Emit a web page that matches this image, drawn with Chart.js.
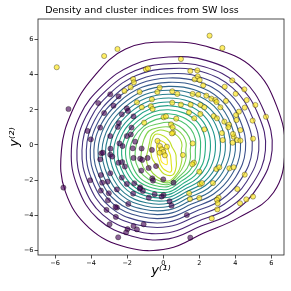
<!DOCTYPE html>
<html>
<head>
<meta charset="utf-8">
<script src="https://cdn.jsdelivr.net/npm/chart.js@4.4.1/dist/chart.umd.min.js"></script>
<style>
  html, body { margin: 0; padding: 0; background: #fff; }
  #wrap { width: 291px; height: 291px; }
</style>
</head>
<body>
<div id="wrap"><canvas id="myChart" width="291" height="291"></canvas></div>
<script>
"use strict";

const ctx = document.getElementById('myChart');

const xTicks = [-6, -4, -2, 0, 2, 4, 6];
const yTicks = [-6, -4, -2, 0, 2, 4, 6];

// cluster 0 (purple) points
const clusterZero = [
  [-5.26,2.05],[-3.61,2.39],[-2.94,2.89],[-2.48,2.77],[-2.76,2.24],[-3.28,1.82],[-2.30,1.75],[-2.02,2.09],
  [-1.96,1.94],[-2.46,1.25],[-3.50,0.99],[-4.20,0.80],[-4.02,0.32],[-2.94,0.51],[-1.65,1.63],[-1.76,0.99],
  [-2.02,0.51],[-1.56,0.19],[-2.43,0.09],[-2.26,-0.06],[-2.93,-0.21],[-3.50,-0.82],[-3.44,-0.47],[-2.94,-0.55],
  [-2.83,-0.66],[-2.48,-1.01],[-1.69,-0.19],[-1.65,-0.74],[-1.28,-0.78],[-0.87,-0.74],[-1.22,-1.46],[-0.81,-1.31],
  [-2.13,-1.23],[-2.94,-1.61],[-3.46,-1.71],[-3.09,-2.09],[-3.39,-2.15],[-4.06,-2.01],[-5.54,-2.43],[-3.46,-2.60],
  [-3.07,-3.15],[-2.57,-2.53],[-2.30,-1.86],[-2.02,-2.22],[-1.61,-2.18],[-1.67,-2.77],[-1.28,-2.41],[-1.13,-2.62],
  [-0.61,-1.90],[-0.57,-2.03],[-0.48,-2.81],[0.02,-2.85],[-0.09,-2.94],[0.00,-1.96],[0.57,-2.15],[0.35,-3.21],
  [0.46,-3.46],[-3.15,-3.70],[-2.57,-3.57],[-1.94,-3.36],[-2.63,-4.10],[-2.98,-4.52],[-1.98,-4.79],[-1.46,-4.81],
  [-1.09,-4.52],[-2.06,-4.98],[-2.50,-5.26],[1.31,-3.99],[1.50,-5.28],[-0.63,-0.28],[-2.28,-0.97],[-1.17,-0.85],
  [-1.30,-2.49],[-0.80,-3.00],[-1.65,-4.62],[-2.65,-3.53],[-3.35,-0.44],[-3.02,-2.75],[-2.52,1.03],[-1.80,0.60],
  [-1.20,-0.20],[-0.40,-1.20]
];

// cluster 1 (yellow) points
const clusterOne = [
  [-5.91,4.43],[-3.28,5.07],[-2.54,5.47],[2.57,6.23],[3.28,5.53],[0.98,4.90],[-0.96,4.31],[-0.85,4.37],
  [1.50,4.22],[1.89,4.25],[1.74,3.74],[1.91,3.91],[2.02,3.70],[2.22,3.40],[3.83,3.68],[3.41,3.32],
  [4.50,3.17],[-1.67,3.76],[-1.63,3.57],[-1.81,3.29],[-2.15,3.08],[-1.31,3.02],[-0.33,3.02],[-0.20,3.27],
  [0.50,3.06],[0.78,2.91],[1.63,2.91],[1.94,2.87],[2.39,2.81],[2.67,2.64],[2.89,2.56],[2.96,2.45],
  [3.48,2.51],[4.02,2.92],[4.63,2.56],[4.52,2.13],[5.11,2.28],[4.20,1.90],[3.17,2.15],[2.06,2.28],
  [1.52,2.30],[0.98,2.30],[0.50,2.41],[-0.63,2.60],[-1.46,2.43],[-1.19,2.15],[-0.69,2.22],[-0.59,2.05],
  [0.02,1.58],[0.15,1.63],[0.72,1.50],[1.43,1.86],[1.72,1.52],[2.06,1.77],[2.28,2.15],[2.80,1.65],
  [2.98,1.52],[3.39,1.33],[3.65,1.16],[3.61,1.01],[4.06,1.42],[4.28,0.85],[3.91,0.47],[4.09,0.28],
  [4.28,0.25],[4.96,1.39],[4.98,0.36],[5.70,1.61],[4.04,1.71],[2.28,0.89],[3.26,0.68],[3.87,0.63],
  [3.30,0.28],[3.85,0.13],[1.63,0.09],[1.09,-0.57],[1.70,-1.01],[1.61,-1.10],[2.00,-1.52],[2.04,-2.24],
  [2.15,-2.17],[2.76,-2.17],[2.94,-1.37],[3.11,-1.27],[3.67,-1.33],[3.91,-1.27],[4.52,-1.69],[4.11,-2.51],
  [4.61,-3.10],[4.98,-2.94],[4.26,-3.32],[3.07,-3.00],[2.98,-3.13],[3.02,-3.32],[3.00,-3.67],[1.44,-2.75],
  [1.48,-3.08],[2.00,-3.02],[2.69,-4.18],[0.43,1.18],[0.52,1.01],[-1.06,1.27],[0.54,0.70],[0.48,0.66],
  [-0.32,0.23],[-0.18,-0.06],[-0.09,-0.25],[0.00,-0.40],[0.09,-0.59],[-0.20,-0.44],[0.20,-0.10]
];

// density contours, outer to inner: radii at 16 directions round a centre
const contourAngles = [0, 22.5, 45, 67.5, 90, 112.5, 135, 157.5, 180, 202.5, 225, 247.5, 270, 292.5, 315, 337.5];
const contourCentres = [
  [0.3,-0.3],[0.3,-0.3],[0.3,-0.3],[0.3,-0.3],[0.3,-0.3],[0.3,-0.3],[0.3,-0.3],[0.3,-0.3],
  [0.3,-0.3],[0.3,-0.3],[0.3,-0.3],[0.3,-0.3],[0.3,-0.3],[0.3,-0.3],[0.3,-0.3],[0.3,-0.3],
  [0.3,-0.3],[0.3,-0.3],[0.3,-0.3],[0.05,-0.55],[0.05,-0.6],[0.0,-0.6]
];
const contourRadii = [
  [6.45,6.50,6.62,6.30,6.17,6.24,5.90,5.80,5.95,6.20,6.25,6.00,5.60,5.10,5.45,6.30],
  [5.74,5.74,5.75,5.53,5.31,5.25,5.19,5.30,5.40,5.47,5.54,5.30,5.05,4.68,5.02,5.38],
  [5.37,5.37,5.36,5.15,4.93,4.90,4.86,4.98,5.09,5.14,5.19,4.95,4.70,4.36,4.68,5.03],
  [5.00,5.01,5.02,4.84,4.65,4.62,4.59,4.70,4.81,4.83,4.85,4.60,4.35,4.05,4.35,4.68],
  [4.63,4.65,4.67,4.52,4.36,4.35,4.33,4.45,4.57,4.58,4.59,4.34,4.09,3.79,4.05,4.34],
  [4.26,4.31,4.36,4.24,4.12,4.12,4.11,4.23,4.35,4.35,4.34,4.09,3.84,3.54,3.77,4.02],
  [3.98,4.03,4.08,3.98,3.87,3.88,3.89,4.02,4.15,4.13,4.11,3.86,3.61,3.32,3.53,3.76],
  [3.70,3.76,3.82,3.73,3.64,3.66,3.67,3.80,3.92,3.90,3.88,3.64,3.40,3.12,3.30,3.50],
  [3.42,3.49,3.56,3.49,3.42,3.44,3.45,3.58,3.70,3.68,3.66,3.44,3.21,2.92,3.08,3.25],
  [3.14,3.22,3.29,3.24,3.19,3.22,3.24,3.37,3.50,3.48,3.46,3.24,3.02,2.73,2.86,3.00],
  [2.87,2.96,3.04,3.01,2.98,3.01,3.03,3.15,3.27,3.26,3.24,3.05,2.85,2.56,2.66,2.77],
  [2.59,2.69,2.78,2.77,2.75,2.78,2.81,2.93,3.05,3.05,3.04,2.86,2.68,2.39,2.45,2.52],
  [2.31,2.42,2.52,2.53,2.54,2.57,2.60,2.72,2.83,2.84,2.84,2.69,2.53,2.22,2.25,2.28],
  [2.03,2.15,2.26,2.29,2.31,2.35,2.39,2.50,2.61,2.63,2.64,2.51,2.38,2.06,2.05,2.04],
  [1.76,1.88,2.00,2.04,2.08,2.13,2.17,2.28,2.39,2.42,2.44,2.33,2.22,1.89,1.85,1.81],
  [1.48,1.61,1.73,1.79,1.84,1.89,1.94,2.05,2.16,2.20,2.24,2.16,2.07,1.73,1.65,1.57],
  [1.20,1.32,1.40,1.50,1.59,1.62,1.80,1.80,1.85,1.95,2.00,1.98,1.95,1.60,1.45,1.30],
  [0.95,1.05,1.15,1.25,1.33,1.40,1.55,1.50,1.50,1.65,1.75,1.80,1.85,1.45,1.20,1.05],
  [0.70,0.80,0.90,0.98,1.04,1.25,1.30,1.15,1.15,1.35,1.50,1.65,1.75,1.35,1.00,0.80],
  [0.65,0.60,0.62,0.80,1.05,1.25,1.00,0.80,0.72,0.70,0.70,0.80,1.10,1.25,0.95,0.72],
  [0.35,0.33,0.35,0.50,0.75,0.90,0.60,0.42,0.38,0.36,0.40,0.55,0.80,1.00,0.55,0.40],
  [0.17,0.17,0.20,0.32,0.45,0.52,0.30,0.20,0.17,0.17,0.20,0.32,0.45,0.55,0.30,0.20]
];

// viridis colour stops
const viridisStops = ['#440154','#471365','#482475','#463480','#414487','#3b528b','#355f8d','#2f6c8e',
  '#2a788e','#25848e','#21918c','#1e9c89','#22a884','#2fb47c','#44bf70','#5ec962','#7ad151','#9bd93c',
  '#bddf26','#dfe318','#fde725'];

function viridis(t) {
  const p = t * (viridisStops.length - 1);
  const i = Math.min(Math.floor(p), viridisStops.length - 2);
  const f = p - i;
  const a = parseInt(viridisStops[i].slice(1), 16), b = parseInt(viridisStops[i + 1].slice(1), 16);
  const ch = s => Math.round(((a >> s) & 255) * (1 - f) + ((b >> s) & 255) * f);
  return 'rgb(' + ch(16) + ',' + ch(8) + ',' + ch(0) + ')';
}

const contourSets = contourRadii.map((radii, k) => ({
  type: 'line',
  label: 'level ' + (k + 1),
  closed: true,
  data: radii.map((r, j) => ({
    x: contourCentres[k][0] + r * Math.cos(contourAngles[j] * Math.PI / 180),
    y: contourCentres[k][1] + r * Math.sin(contourAngles[j] * Math.PI / 180)
  })),
  borderColor: viridis(k / (contourRadii.length - 1)),
  borderWidth: 1.1,
  pointRadius: 0,
  tension: 0.4,
  fill: false,
  order: 2
}));

// make the contour lines smooth closed loops
const closeLoops = {
  id: 'closeLoops',
  afterDatasetUpdate(chart, args) {
    const ds = chart.data.datasets[args.index];
    if (ds.closed && args.meta.dataset) {
      args.meta.dataset._loop = true;
      args.meta.dataset._fullLoop = true;
    }
  }
};

// box round the plot
const frame = {
  id: 'frame',
  afterDatasetsDraw(chart) {
    const a = chart.chartArea;
    const c = chart.ctx;
    c.save();
    c.strokeStyle = '#222';
    c.lineWidth = 0.8;
    c.strokeRect(a.left, a.top, a.right - a.left, a.bottom - a.top);
    c.restore();
  }
};

const tickFont = { family: 'DejaVu Sans', size: 6.5 };
const minus = v => String(v).replace('-', '\u2212');

new Chart(ctx, {
  type: 'scatter',
  data: {
    datasets: [
      {
        label: 'cluster 0',
        data: clusterZero.map(p => ({ x: p[0], y: p[1] })),
        pointRadius: 2.6,
        pointBackgroundColor: 'rgba(68, 1, 84, 0.62)',
        pointBorderColor: 'rgba(0, 0, 0, 0.55)',
        pointBorderWidth: 0.6,
        order: 0
      },
      {
        label: 'cluster 1',
        data: clusterOne.map(p => ({ x: p[0], y: p[1] })),
        pointRadius: 2.6,
        pointBackgroundColor: 'rgba(253, 231, 37, 0.7)',
        pointBorderColor: 'rgba(0, 0, 0, 0.55)',
        pointBorderWidth: 0.6,
        order: 0
      },
      ...contourSets
    ]
  },
  options: {
    responsive: false,
    animation: false,
    devicePixelRatio: 1,
    layout: { padding: { left: 0, right: 7, top: 0, bottom: 0 } },
    plugins: {
      legend: { display: false },
      tooltip: { enabled: false },
      title: {
        display: true,
        text: 'Density and cluster indices from SW loss',
        color: '#000',
        font: { family: 'DejaVu Sans', size: 9.5, weight: 'normal' },
        padding: { top: 5, bottom: 2.6 }
      }
    },
    scales: {
      x: {
        type: 'linear',
        min: -6.95,
        max: 6.7,
        afterBuildTicks: s => { s.ticks = xTicks.map(v => ({ value: v })); },
        afterFit: s => { s.height = 36; },
        border: { display: false },
        grid: { drawOnChartArea: false, drawTicks: true, tickLength: 3.5, tickColor: '#222', tickWidth: 0.8 },
        ticks: { font: tickFont, color: '#000', padding: 1, maxRotation: 0, autoSkip: false, callback: minus },
        title: {
          display: true,
          text: 'y\u207D\u00B9\u207E',
          color: '#000',
          font: { family: 'DejaVu Sans', size: 13, style: 'italic' },
          padding: { top: 0, bottom: 13 }
        }
      },
      y: {
        type: 'linear',
        min: -6.27,
        max: 7.18,
        afterBuildTicks: s => { s.ticks = yTicks.map(v => ({ value: v })); },
        afterFit: s => { s.width = 38; },
        border: { display: false },
        grid: { drawOnChartArea: false, drawTicks: true, tickLength: 3.5, tickColor: '#222', tickWidth: 0.8 },
        ticks: { font: tickFont, color: '#000', padding: 1, autoSkip: false, callback: minus },
        title: {
          display: true,
          text: 'y\u207D\u00B2\u207E',
          color: '#000',
          font: { family: 'DejaVu Sans', size: 13, style: 'italic' },
          padding: { top: 7, bottom: 0 }
        }
      }
    }
  },
  plugins: [closeLoops, frame]
});
</script>
</body>
</html>
